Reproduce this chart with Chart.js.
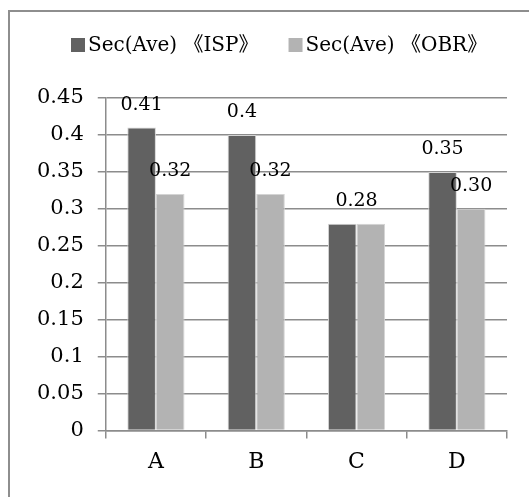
<!DOCTYPE html>
<html>
<head>
<meta charset="utf-8">
<script src="https://cdn.jsdelivr.net/npm/chart.js@4.4.1/dist/chart.umd.min.js"></script>
<style>
  html, body { margin: 0; padding: 0; background: #ffffff; }
  #wrap { position: relative; width: 529px; height: 497px; overflow: hidden; }
  #frame { position: absolute; left: 8px; top: 10px; width: 600px; height: 600px;
           border: 2px solid #8e8e8e; box-sizing: border-box; }
  #c { position: absolute; left: 0; top: 0; }
</style>
</head>
<body>
<div id="wrap">
  <div id="frame"></div>
  <canvas id="c" width="529" height="497"></canvas>
</div>
<script>
// Categories and series
const categories = ['A', 'B', 'C', 'D'];
const seriesNames = ['Sec(Ave) \u300AISP\u300B', 'Sec(Ave) \u300AOBR\u300B'];
const ispValues = [0.41, 0.40, 0.28, 0.35];
const obrValues = [0.32, 0.32, 0.28, 0.30];
const ispLabels = ['0.41', '0.4', '0.28', '0.35'];
const obrLabels = ['0.32', '0.32', '0.28', '0.30'];
const yTickLabels = ['0', '0.05', '0.1', '0.15', '0.2', '0.25', '0.3', '0.35', '0.4', '0.45'];

const seriesColors = ['#616161', '#b3b3b3'];
const serif = '"DejaVu Serif", "Noto Sans CJK JP", serif';

// Value labels above bars; when both bars of a category share a value,
// one label is drawn centred over the pair.
const valueLabels = {
  id: 'valueLabels',
  afterDatasetsDraw(chart) {
    const ctx = chart.ctx;
    const m0 = chart.getDatasetMeta(0);
    const m1 = chart.getDatasetMeta(1);
    const texts = [ispLabels, obrLabels];
    ctx.save();
    ctx.font = '19px ' + serif;
    ctx.fillStyle = '#000';
    ctx.textAlign = 'center';
    ctx.textBaseline = 'middle';
    categories.forEach((_, i) => {
      const b0 = m0.data[i], b1 = m1.data[i];
      if (ispValues[i] === obrValues[i]) {
        ctx.fillText(texts[1][i], (b0.x + b1.x) / 2, b1.y - 23);
      } else {
        ctx.fillText(texts[0][i], b0.x, b0.y - 23);
        ctx.fillText(texts[1][i], b1.x, b1.y - 23);
      }
    });
    ctx.restore();
  }
};

// Legend row across the top
const topLegend = {
  id: 'topLegend',
  afterDraw(chart) {
    const ctx = chart.ctx;
    ctx.save();
    ctx.font = '20px ' + serif;
    ctx.textBaseline = 'middle';
    ctx.textAlign = 'left';
    const box = 14, gap = 3, itemGap = 30;
    const widths = seriesNames.map(n => box + gap + ctx.measureText(n).width);
    let x = 71;
    const y = 45;
    seriesNames.forEach((name, i) => {
      ctx.fillStyle = seriesColors[i];
      ctx.fillRect(x, y - box / 2, box, box);
      ctx.fillStyle = '#000';
      ctx.fillText(name, x + box + gap, y + 1);
      x += widths[i] + itemGap;
    });
    ctx.restore();
  }
};

new Chart(document.getElementById('c'), {
  type: 'bar',
  data: {
    labels: categories,
    datasets: [
      { label: seriesNames[0], data: ispValues, backgroundColor: seriesColors[0],
        borderColor: '#d4d4d4', borderWidth: 1, categoryPercentage: 0.57, barPercentage: 1 },
      { label: seriesNames[1], data: obrValues, backgroundColor: seriesColors[1],
        borderColor: '#d4d4d4', borderWidth: 1, categoryPercentage: 0.57, barPercentage: 1 }
    ]
  },
  options: {
    responsive: false,
    devicePixelRatio: 1,
    animation: false,
    layout: { padding: { left: 23, right: 22, top: 98, bottom: 12 } },
    plugins: {
      legend: { display: false },
      tooltip: { enabled: false }
    },
    scales: {
      x: {
        grid: { drawOnChartArea: false, drawTicks: true, tickLength: 8, color: '#8c8c8c', lineWidth: 1.5 },
        border: { color: '#8c8c8c', width: 1.5 },
        ticks: { color: '#000', font: { family: serif, size: 22 }, padding: 10 }
      },
      y: {
        min: 0,
        max: 0.45,
        ticks: {
          stepSize: 0.05,
          color: '#000',
          font: { family: serif, size: 21 },
          padding: 14,
          callback: (v, i) => yTickLabels[i]
        },
        grid: { color: '#8c8c8c', lineWidth: 1.5, tickLength: 8 },
        border: { color: '#8c8c8c', width: 1.5 }
      }
    }
  },
  plugins: [valueLabels, topLegend]
});
</script>
</body>
</html>
